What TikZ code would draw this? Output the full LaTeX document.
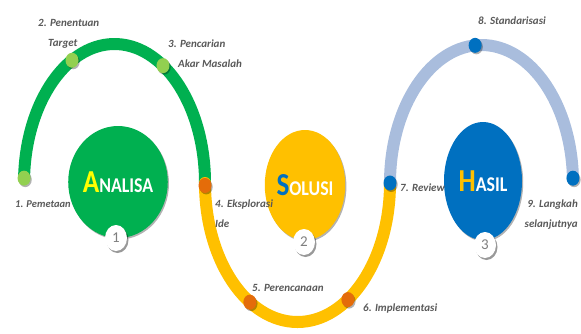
\documentclass[tikz,border=0pt]{standalone}
\usepackage{fontspec}
\setmainfont{Carlito}
\usepackage{graphicx}
\usetikzlibrary{calc,shapes.geometric,shadows}
\definecolor{cgreen}{HTML}{00B050}
\definecolor{clgreen}{HTML}{92D050}
\definecolor{cyellow}{HTML}{FFC000}
\definecolor{cyel}{HTML}{FFFF00}
\definecolor{corange}{HTML}{E46C0A}
\definecolor{cblue}{HTML}{0070C0}
\definecolor{clblue}{HTML}{A9BDDD}
\definecolor{ctext}{HTML}{595959}
\definecolor{cnum}{HTML}{7F7F7F}
\newcommand\bigword[3]{\scalebox{0.85}[1]{\bfseries\fontsize{32}{32}\selectfont\textcolor{#1}{#2}\fontsize{21}{21}\selectfont\textcolor{white}{#3}}}
\begin{document}
\begin{tikzpicture}[x=1pt,y=1pt,
  track/.style={line width=12pt, line cap=round},
  softshadow/.style={drop shadow={shadow xshift=1.2pt, shadow yshift=-1.5pt, opacity=0.3, fill=black}},
  numshadow/.style={drop shadow={shadow xshift=1.5pt, shadow yshift=-2pt, opacity=0.4, fill=black}},
  dot/.style={ellipse, minimum width=13pt, minimum height=15pt, inner sep=0pt, softshadow},
  bigell/.style={ellipse, minimum width=77pt, minimum height=112pt, inner sep=0pt, softshadow},
  num/.style={ellipse, fill=white, minimum width=22pt, minimum height=26pt, inner sep=0pt, text=cnum, font=\fontsize{15}{15}\selectfont, numshadow},
  lbl/.style={font=\fontsize{11}{20}\selectfont\bfseries\itshape, text=ctext, inner sep=0pt, align=left}]
\useasboundingbox (0,0) rectangle (581,-333);
\coordinate (cg) at (114.5,-183);
\coordinate (cy) at (297.5,-183);
\coordinate (cb) at (481.5,-183);
% tracks
\draw[track, cgreen] ($(cg)+(178:90.5 and 139)$) arc[start angle=178, end angle=0, x radius=90.5, y radius=139];
\draw[track, cyellow] ($(cy)+(180:92.5 and 139)$) arc[start angle=180, end angle=360, x radius=92.5, y radius=139];
\draw[track, clblue] ($(cb)+(180:91.5 and 138)$) arc[start angle=180, end angle=2, x radius=91.5, y radius=138];
% big ellipses
\node[bigell, fill=cgreen] (analisa) at (118,-182) {\bigword{cyel}{A}{NALISA}};
\node[bigell, fill=cyellow, minimum width=75pt, minimum height=110pt] (solusi) at (305,-185) {\bigword{cblue}{S}{OLUSI}};
\node[bigell, fill=cblue, minimum width=78pt, minimum height=118pt] (hasil) at (483,-181) {\bigword{cyellow}{H}{ASIL}};
% dots
\node[dot, fill=clgreen] (d1) at ($(cg)+(178:90.5 and 139)$) {};
\node[dot, fill=clgreen] (d2) at ($(cg)+(118:90.5 and 139)$) {};
\node[dot, fill=clgreen] (d3) at ($(cg)+(57.6:90.5 and 139)$) {};
\node[dot, fill=corange] (d4) at ($(cy)+(181:92.5 and 139)$) {};
\node[dot, fill=corange] (d5) at ($(cy)+(239:92.5 and 139)$) {};
\node[dot, fill=corange] (d6) at ($(cy)+(303:92.5 and 139)$) {};
\node[dot, fill=cblue] (d7) at ($(cb)+(180:91.5 and 138)$) {};
\node[dot, fill=cblue] (d8) at ($(cb)+(94:91.5 and 138)$) {};
\node[dot, fill=cblue] (d9) at ($(cb)+(2:91.5 and 138)$) {};
% number circles
\node[num] (n1) at (116,-238) {1};
\node[num] (n2) at (304,-242) {2};
\node[num] (n3) at (485,-245) {3};
% labels
\node[lbl, anchor=base west, font=\fontsize{10.5}{20}\selectfont\bfseries\itshape] (l1) at (15,-207) {1. Pemetaan};
\node[lbl, anchor=north west] (l2) at (38,-19) {2. Penentuan\\\hspace*{10pt}Target};
\node[lbl, anchor=north west] (l3) at (168,-40) {3. Pencarian\\\hspace*{10pt}Akar Masalah};
\node[lbl, anchor=north west] (l4) at (215,-200) {4. Eksplorasi\\Ide};
\node[lbl, anchor=base west] (l5) at (252,-291) {5. Perencanaan};
\node[lbl, anchor=base west] (l6) at (363,-311) {6. Implementasi};
\node[lbl, anchor=base west] (l7) at (400,-191) {7. Review};
\node[lbl, anchor=base west] (l8) at (478,-24) {8. Standarisasi};
\node[lbl, anchor=north east, align=right] (l9) at (578,-200) {9. Langkah\\selanjutnya};
\end{tikzpicture}
\end{document}
